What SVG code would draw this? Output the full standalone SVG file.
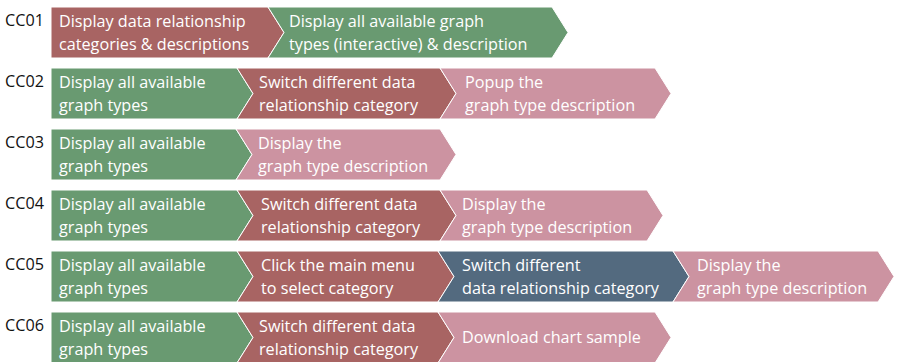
<svg xmlns="http://www.w3.org/2000/svg" width="900" height="362" viewBox="0 0 900 362">
<style>
.g{fill:#699a71;stroke:#fff;stroke-width:1}
.r{fill:#a86463;stroke:#fff;stroke-width:1}
.p{fill:#cc93a1;stroke:#fff;stroke-width:1}
.b{fill:#536a7f;stroke:#fff;stroke-width:1}
text{font-family:"Open Sans","Noto Sans","Liberation Sans",sans-serif;font-size:16.2px}
.t{fill:#fff}
.lbl{fill:#111}
</style>
<rect width="900" height="362" fill="#fff"/>
<!-- Row 1 -->
<g id="cc01">
<text class="lbl" x="5" y="26">CC01</text>
<g id="cc01-1"><path class="r" d="M51,7H268L284,32.5L268,58H51Z"/><text class="t" x="59" y="27">Display data relationship</text><text class="t" x="59" y="49.5">categories &amp; descriptions</text></g>
<g id="cc01-2"><path class="g" d="M268,7H552L568,32.5L552,58H268L284,32.5Z"/><text class="t" x="289" y="27">Display all available graph</text><text class="t" x="289" y="49.5">types (interactive) &amp; description</text></g>
</g>
<!-- Row 2 -->
<g id="cc02">
<text class="lbl" x="5" y="87">CC02</text>
<g id="cc02-1"><path class="g" d="M51,68H237L253,93.5L237,119H51Z"/><text class="t" x="59" y="88">Display all available</text><text class="t" x="59" y="110.5">graph types</text></g>
<g id="cc02-2"><path class="r" d="M237,68H440L456,93.5L440,119H237L253,93.5Z"/><text class="t" x="259" y="88">Switch different data</text><text class="t" x="259" y="110.5">relationship category</text></g>
<g id="cc02-3"><path class="p" d="M440,68H655L671,93.5L655,119H440L456,93.5Z"/><text class="t" x="465" y="88">Popup the</text><text class="t" x="465" y="110.5">graph type description</text></g>
</g>
<!-- Row 3 -->
<g id="cc03">
<text class="lbl" x="5" y="148">CC03</text>
<g id="cc03-1"><path class="g" d="M51,129H236L252,154.5L236,180H51Z"/><text class="t" x="59" y="149">Display all available</text><text class="t" x="59" y="171.5">graph types</text></g>
<g id="cc03-2"><path class="p" d="M236,129H440L456,154.5L440,180H236L252,154.5Z"/><text class="t" x="258" y="149">Display the</text><text class="t" x="258" y="171.5">graph type description</text></g>
</g>
<!-- Row 4 -->
<g id="cc04">
<text class="lbl" x="5" y="209">CC04</text>
<g id="cc04-1"><path class="g" d="M51,190H237L253,215.5L237,241H51Z"/><text class="t" x="59" y="210">Display all available</text><text class="t" x="59" y="232.5">graph types</text></g>
<g id="cc04-2"><path class="r" d="M237,190H440L456,215.5L440,241H237L253,215.5Z"/><text class="t" x="261" y="210">Switch different data</text><text class="t" x="261" y="232.5">relationship category</text></g>
<g id="cc04-3"><path class="p" d="M440,190H647L663,215.5L647,241H440L456,215.5Z"/><text class="t" x="462" y="210">Display the</text><text class="t" x="462" y="232.5">graph type description</text></g>
</g>
<!-- Row 5 -->
<g id="cc05">
<text class="lbl" x="5" y="270">CC05</text>
<g id="cc05-1"><path class="g" d="M51,251H237L253,276.5L237,302H51Z"/><text class="t" x="59" y="271">Display all available</text><text class="t" x="59" y="293.5">graph types</text></g>
<g id="cc05-2"><path class="r" d="M237,251H438L454,276.5L438,302H237L253,276.5Z"/><text class="t" x="261" y="271">Click the main menu</text><text class="t" x="261" y="293.5">to select category</text></g>
<g id="cc05-3"><path class="b" d="M438,251H673L689,276.5L673,302H438L454,276.5Z"/><text class="t" x="462" y="271">Switch different</text><text class="t" x="462" y="293.5">data relationship category</text></g>
<g id="cc05-4"><path class="p" d="M673,251H878L894,276.5L878,302H673L689,276.5Z"/><text class="t" x="697" y="271">Display the</text><text class="t" x="697" y="293.5">graph type description</text></g>
</g>
<!-- Row 6 -->
<g id="cc06">
<text class="lbl" x="5" y="331">CC06</text>
<g id="cc06-1"><path class="g" d="M51,312H237L253,337.5L237,363H51Z"/><text class="t" x="59" y="332">Display all available</text><text class="t" x="59" y="354.5">graph types</text></g>
<g id="cc06-2"><path class="r" d="M237,312H438L454,337.5L438,363H237L253,337.5Z"/><text class="t" x="259" y="332">Switch different data</text><text class="t" x="259" y="354.5">relationship category</text></g>
<g id="cc06-3"><path class="p" d="M438,312H655L671,337.5L655,363H438L454,337.5Z"/><text class="t" x="462" y="343">Download chart sample</text></g>
</g>
</svg>
